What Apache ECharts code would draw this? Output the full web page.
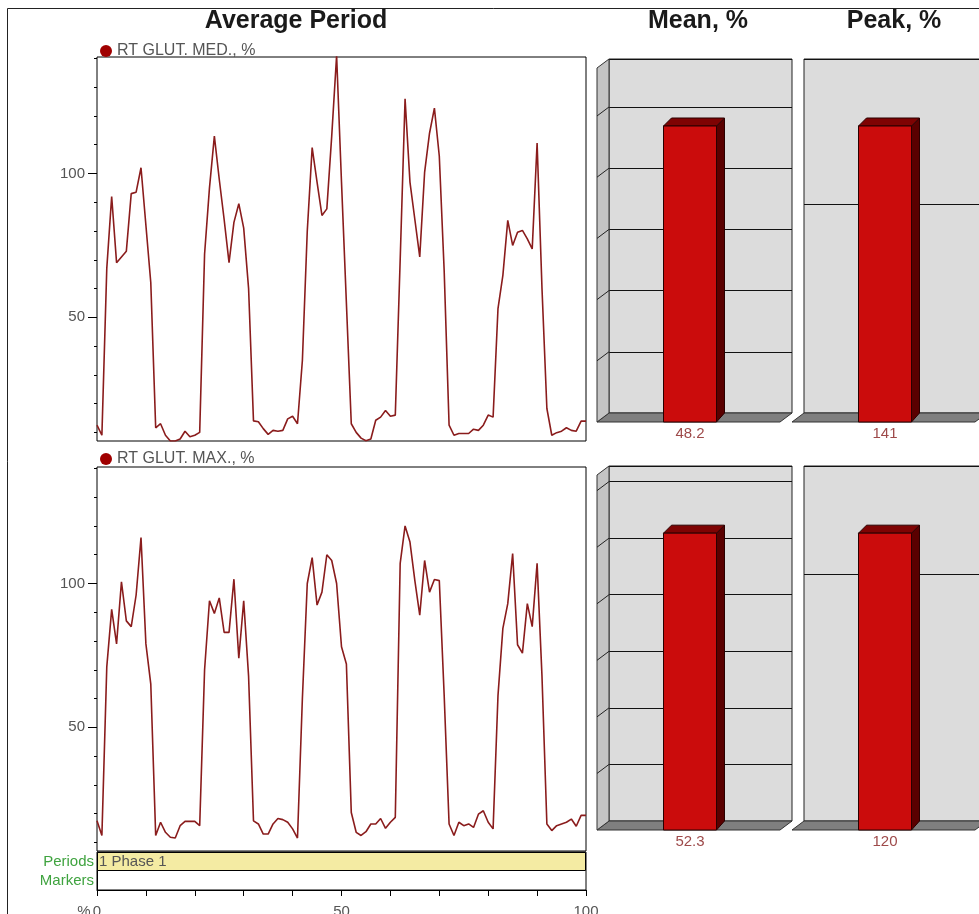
<!DOCTYPE html>
<html><head><meta charset="utf-8">
<script src="https://cdn.jsdelivr.net/npm/echarts@6/dist/echarts.min.js"></script>
<style>html,body{margin:0;padding:0;background:#fff}#c{width:979px;height:914px}</style>
</head><body><div id="c"></div>
<script>
// ---------------- data ----------------
const percent = Array.from({length: 101}, (_, i) => i); // sample positions, % of period
const medValues = [12.5,9,67,92,69,71,73,93,93.5,102,
  82,62,11.6,13,9,7,7,7.7,10.4,8.5,
  9,10,72,95,113,98,84,69,83,89.5,
  81,60,14,13.7,11.3,9.3,10.7,10.4,10.7,14.7,
  15.6,13,35,80,109,97,85.4,87.7,113,141,
  97,55,13,10,8,7.1,7.7,14.2,15.3,17.6,
  15.6,16,70,126,97,84,71,100.5,114,122.7,
  106,66,12.5,9,9.6,9.6,9.6,11.1,10.7,12.5,
  16,15.3,53,64.6,83.7,75,79.6,80.2,77.3,73.8,
  110.6,60,18.3,9,9.9,10.4,11.6,10.7,10.4,13.9,13.9];
const maxValues = [17.5,12.4,71,91,79,100.6,87,85,96,116,
  79,65,12.4,17,13.5,11.8,11.5,15.8,17.3,17.3,
  17.3,15.8,70,94,89.6,95,83,83,101.5,74,
  94,67.7,17.5,16.4,12.9,12.9,16.4,18.3,17.9,17,
  14.7,11.5,60,100,109,92.5,97,110,108,100,
  78,72,20.4,13.5,12.4,13.7,16.4,16.4,18.3,14.9,
  17,18.7,107,120,114.4,101,89,108,97,101.4,
  101,61,16.4,12.4,17,15.8,16.4,15.2,19.8,21,
  17,14.7,61,84.4,93,110.4,78.7,75.8,93,85,
  107,67.7,16.4,14.1,15.8,16.4,17,18.1,15.6,19.4,19.4];
const seriesNames = ['RT GLUT. MED., %', 'RT GLUT. MAX., %'];
const meanValues = [48.2, 52.3];
const peakValues = [141, 120];
const yMinorTicks = [10,20,30,40,50,60,70,80,90,100,110,120,130,140];
const yTickLabels = [50, 100];
const xTickLabels = [0, 50, 100];
const rowLabels = ['Periods', 'Markers'];
const periodLabel = '1 Phase 1';
const titles = ['Average Period', 'Mean, %', 'Peak, %'];

// ---------------- chart ----------------
const FONT = 'Liberation Sans, Arial, sans-serif';
const chart = echarts.init(document.getElementById('c'), null, {renderer: 'canvas'});

const lineGrids = [{left: 97, top: 57, width: 489, height: 384}, {left: 97, top: 467, width: 489, height: 384}];
const barGrids = [
  {left: 609, top: 59, width: 183, height: 354},
  {left: 804, top: 59, right: -8, height: 354},
  {left: 609, top: 466, width: 183, height: 355},
  {left: 804, top: 466, right: -8, height: 355}
];
const gridCommon = {outerBoundsMode: 'none', containLabel: false};
const grids = [];
lineGrids.forEach(g => grids.push(Object.assign({show: true, borderColor: '#000', borderWidth: 1, backgroundColor: '#fff'}, gridCommon, g)));
grids.push(Object.assign({left: 97, top: 852, width: 489, height: 38, show: true, borderColor: '#000', borderWidth: 1}, gridCommon));
barGrids.forEach(g => grids.push(Object.assign({show: true, borderColor: '#222', borderWidth: 1, backgroundColor: '#dcdcdc'}, gridCommon, g)));

const xAxes = [], yAxes = [];
[0, 1].forEach(k => {
  xAxes.push({type: 'value', gridIndex: k, min: 0, max: 100, show: false});
  yAxes.push({type: 'value', gridIndex: k, min: 7, max: 140.5, position: 'left',
    axisLine: {show: false}, splitLine: {show: false},
    axisTick: {show: true, length: 3, customValues: yMinorTicks, lineStyle: {color: '#000'}},
    axisLabel: {show: false}});
  yAxes.push({type: 'value', gridIndex: k, min: 7, max: 140.5, position: 'left',
    axisLine: {show: false}, splitLine: {show: false},
    axisTick: {show: true, length: 9, customValues: yTickLabels, lineStyle: {color: '#000'}},
    axisLabel: {show: true, customValues: yTickLabels, margin: 12, color: '#555', fontSize: 15, fontFamily: FONT}});
});
// periods / markers strip with the shared % axis
xAxes.push({type: 'value', gridIndex: 2, min: 0, max: 100, interval: 10,
  axisLine: {show: true, lineStyle: {color: '#000'}},
  axisTick: {show: true, length: 6, lineStyle: {color: '#000'}},
  splitLine: {show: false},
  axisLabel: {margin: 14, color: '#555', fontSize: 15, fontFamily: FONT,
    formatter: v => xTickLabels.includes(v) ? String(v) : ''}});
yAxes.push({type: 'category', gridIndex: 2, data: rowLabels, inverse: true,
  axisLine: {show: true, lineStyle: {color: '#000'}}, axisTick: {show: false},
  axisLabel: {interval: 0, margin: 3, color: '#3fa33f', fontSize: 15, fontFamily: FONT}});

// bar panels
const panelValues = [meanValues[0], peakValues[0], meanValues[1], peakValues[1]];
const panelSteps = [10, 100, 10, 100];
const panelWall = [1, 0, 1, 0];
panelValues.forEach((v, i) => {
  xAxes.push({type: 'category', gridIndex: 3 + i, data: ['v'], show: false});
  yAxes.push({type: 'value', gridIndex: 3 + i, min: 0, max: v * 1.2, interval: panelSteps[i],
    axisLine: {show: false}, axisTick: {show: false}, axisLabel: {show: false},
    splitLine: {show: true, lineStyle: {color: '#111', width: 1}}});
});

function render3D(params, api) {
  const cs = params.coordSys;
  const v = api.value(1), step = api.value(2), wall = api.value(3);
  const base = api.coord([api.value(0), 0]);
  const top = api.coord([api.value(0), v]);
  const L = cs.x, R = cs.x + cs.width, T = cs.y, B = cs.y + cs.height;
  const dx = 12, dy = 9;
  const ch = [];
  ch.push({type: 'polygon', shape: {points: [[L, B], [R, B], [R - dx, B + dy], [L - dx, B + dy]]},
    style: {fill: '#7f7f7f', stroke: '#333', lineWidth: 1}});
  if (wall) {
    ch.push({type: 'polygon', shape: {points: [[L, T], [L, B], [L - dx, B + dy], [L - dx, T + dy]]},
      style: {fill: '#c4c4c4', stroke: '#333', lineWidth: 1}});
    const mx = api.value(4);
    for (let t = step; t < mx; t += step) {
      const y = api.coord([api.value(0), t])[1];
      ch.push({type: 'line', shape: {x1: L, y1: y, x2: L - dx, y2: y + dy}, style: {stroke: '#222', lineWidth: 1}});
    }
  }
  const cx = L + 91.5 - 10.5, hw = 26.5, d = 8;
  const x0 = cx - hw, x1 = cx + hw, yT = top[1], yB = base[1];
  ch.push({type: 'polygon', shape: {points: [[x1, yT + d], [x1 + d, yT], [x1 + d, yB], [x1, yB + dy]]},
    style: {fill: '#5a0000', stroke: '#2a0000', lineWidth: 1}});
  ch.push({type: 'polygon', shape: {points: [[x0, yT + d], [x0 + d, yT], [x1 + d, yT], [x1, yT + d]]},
    style: {fill: '#7e0303', stroke: '#2a0000', lineWidth: 1}});
  ch.push({type: 'rect', shape: {x: x0, y: yT + d, width: 2 * hw, height: yB + dy - yT - d},
    style: {fill: '#cb0c0c', stroke: '#2a0000', lineWidth: 1}});
  ch.push({type: 'text', style: {text: String(v), x: cx, y: yB + dy + 12, align: 'center', verticalAlign: 'middle',
    fill: '#9e4a4a', fontSize: 15, fontFamily: FONT}});
  return {type: 'group', children: ch};
}

const series = [
  {name: seriesNames[0], type: 'line', xAxisIndex: 0, yAxisIndex: 1, showSymbol: false, symbol: 'none',
   data: percent.map((p, i) => [p, medValues[i]]), lineStyle: {color: '#8a1c1c', width: 1.6}, itemStyle: {color: '#a00000'}},
  {name: seriesNames[1], type: 'line', xAxisIndex: 1, yAxisIndex: 3, showSymbol: false, symbol: 'none',
   data: percent.map((p, i) => [p, maxValues[i]]), lineStyle: {color: '#8a1c1c', width: 1.6}, itemStyle: {color: '#a00000'}},
  {type: 'bar', xAxisIndex: 2, yAxisIndex: 4, barWidth: '100%', data: [100, '-'],
   itemStyle: {color: '#f4eba3', borderColor: '#000', borderWidth: 1},
   label: {show: true, position: 'insideLeft', distance: 2, formatter: periodLabel, color: '#555', fontSize: 15, fontFamily: FONT},
   silent: true}
];
panelValues.forEach((v, i) => {
  series.push({type: 'custom', xAxisIndex: 3 + i, yAxisIndex: 5 + i, clip: false, silent: true,
    data: [[0, v, panelSteps[i], panelWall[i], v * 1.2]], renderItem: render3D});
});

const legendBase = {padding: 0, icon: 'circle', itemWidth: 12, itemHeight: 12, itemGap: 5, selectedMode: false,
  textStyle: {fontSize: 16, color: '#555', fontFamily: FONT, padding: [0, 0, 0, 0]}};
const legends = [
  Object.assign({}, legendBase, {left: 100, top: 43, data: [{name: seriesNames[0], itemStyle: {color: '#a00000'}}]}),
  Object.assign({}, legendBase, {left: 100, top: 451, data: [{name: seriesNames[1], itemStyle: {color: '#a00000'}}]})
];

const titleStyle = {fontSize: 25, fontWeight: 'bold', fontFamily: FONT, fill: '#1a1a1a', align: 'center', verticalAlign: 'middle'};
chart.setOption({
  animation: false,
  textStyle: {fontFamily: FONT},
  grid: grids, xAxis: xAxes, yAxis: yAxes, series: series, legend: legends,
  graphic: [
    {type: 'polyline', silent: true, shape: {points: [[7.5, 914], [7.5, 8.5], [979, 8.5]]}, style: {stroke: '#222', lineWidth: 1, fill: null}},
    {type: 'text', x: 296, y: 21, style: Object.assign({text: titles[0]}, titleStyle)},
    {type: 'text', x: 698, y: 21, style: Object.assign({text: titles[1]}, titleStyle)},
    {type: 'text', x: 894, y: 21, style: Object.assign({text: titles[2]}, titleStyle)},
    {type: 'text', x: 84, y: 912, style: {text: '%', fontSize: 15, fontFamily: FONT, fill: '#555', align: 'center', verticalAlign: 'middle'}}
  ]
});
</script></body></html>
